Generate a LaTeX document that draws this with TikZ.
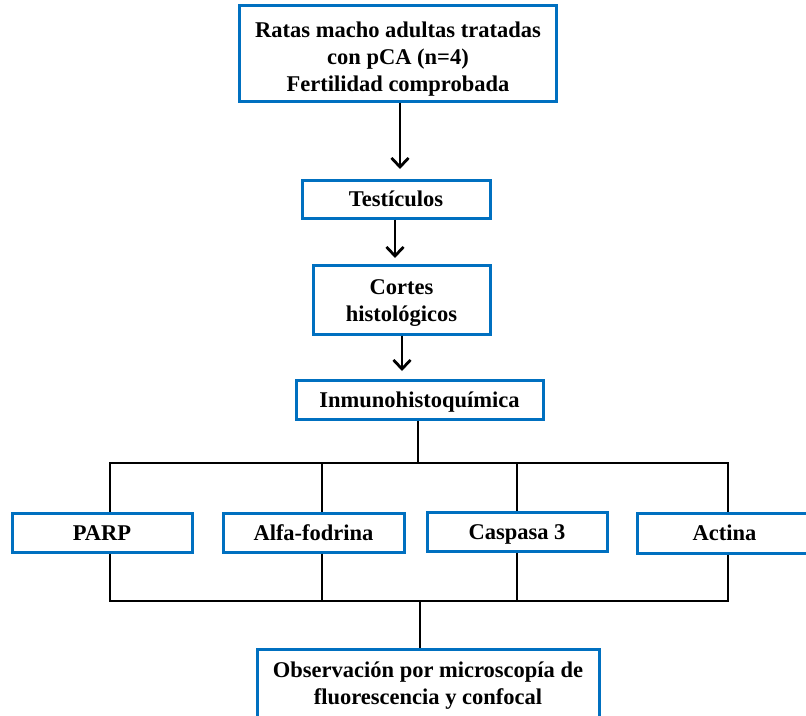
\documentclass[tikz,border=0pt]{standalone}
\usepackage{fontspec}
\setmainfont{Liberation Serif}
\usetikzlibrary{arrows.meta}
\definecolor{boxblue}{RGB}{0,112,192}
\newcommand\mlines[2]{\raisebox{0pt}[\dimexpr\height+#1\relax][\dimexpr\depth-#1\relax]{\begin{tabular}{@{}c@{}}#2\end{tabular}}}
\begin{document}
\begin{tikzpicture}[x=1pt,y=-1pt,
  box/.style={draw=boxblue,line width=3pt,fill=white,rectangle,align=center,inner sep=0pt,
    font=\bfseries\fontsize{22.5}{27}\selectfont},
  one/.style={text height=17pt,text depth=2pt},
  conn/.style={line width=2.8pt,black},
  arr/.style={conn,-{Straight Barb[length=9pt,width=17pt,line width=2.8pt]}}]
\useasboundingbox (0,0) rectangle (806,715);
\node[box,minimum width=317pt,minimum height=96pt] (top) at (398,53) {\mlines{6pt}{Ratas macho adultas tratadas\\con pCA (n=4)\\Fertilidad comprobada}};
\node[box,one,minimum width=188pt,minimum height=38pt] (test) at (396,199) {Testículos};
\node[box,minimum width=177pt,minimum height=69pt] (cort) at (401.5,299.5) {\mlines{3pt}{Cortes\\histológicos}};
\node[box,one,minimum width=247pt,minimum height=39pt] (inm) at (419.5,399.5) {Inmunohistoquímica};
\node[box,one,minimum width=180pt,minimum height=39pt] (parp) at (102,532.5) {PARP};
\node[box,one,minimum width=181pt,minimum height=39pt] (alfa) at (313.5,532.5) {Alfa-fodrina};
\node[box,one,minimum width=180pt,minimum height=39pt] (casp) at (517,531.5) {Caspasa 3};
\node[box,one,minimum width=175pt,minimum height=40pt] (act) at (724.5,533) {Actina};
\node[box,minimum width=342pt,minimum height=73pt] (obs) at (428,685.5) {\mlines{0pt}{Observación por microscopía de\\fluorescencia y confocal}};
\coordinate (h1) at (110,463);
\coordinate (h2) at (322,463);
\coordinate (h3) at (517,463);
\coordinate (h4) at (728,463);
\coordinate (l1) at (110,601);
\coordinate (l4) at (728,601);
\coordinate (lm) at (420,601);
\draw[arr,shorten >=1pt] (top.south -| 400,0) -- (400,170);
\draw[arr] (test.south -| 395,0) -- (395,258);
\draw[arr] (cort.south -| 402,0) -- (402,371);
\draw[conn] (inm.south -| 418,0) -- (418,463);
\draw[conn,line cap=rect] (h1) -- (h4);
\draw[conn] (h1) -- (h1 |- parp.north);
\draw[conn] (h2) -- (h2 |- alfa.north);
\draw[conn] (h3) -- (h3 |- casp.north);
\draw[conn] (h4) -- (h4 |- act.north);
\draw[conn] (h1 |- parp.south) -- (l1);
\draw[conn] (h2 |- alfa.south) -- (h2 |- l1);
\draw[conn] (h3 |- casp.south) -- (h3 |- l1);
\draw[conn] (h4 |- act.south) -- (l4);
\draw[conn,line cap=rect] (l1) -- (l4);
\draw[conn] (lm) -- (lm |- obs.north);
\end{tikzpicture}
\end{document}
